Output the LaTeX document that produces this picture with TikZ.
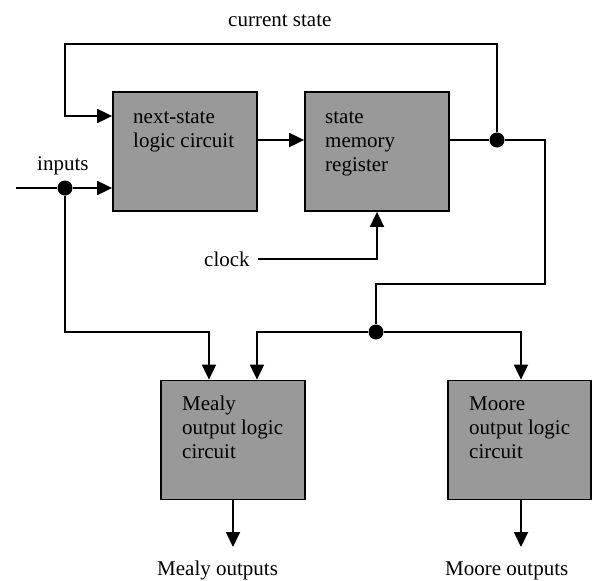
\documentclass[tikz,border=0pt]{standalone}
\usepackage{fontspec}
\setmainfont{Liberation Serif}
\usetikzlibrary{arrows.meta}
\definecolor{boxgray}{RGB}{153,153,153}
\begin{document}
\begin{tikzpicture}[x=1pt,y=-1pt,
  every node/.style={font=\fontsize{21}{24}\selectfont},
  blk/.style={draw=black,line width=1.8pt,fill=boxgray,minimum width=144pt,minimum height=119pt,inner sep=0pt},
  txt/.style={anchor=north west,align=left,inner sep=0pt},
  lbl/.style={anchor=base west,inner sep=0pt},
  wire/.style={line width=1.8pt},
  arr/.style={wire,-{Triangle[length=15pt,width=14pt]}},
  junc/.style={circle,fill=black,minimum size=15pt,inner sep=0pt}]
\useasboundingbox (0,0) rectangle (592,581);
% helper rows / columns
\coordinate (r1) at (0,116);
\coordinate (r2) at (0,140);
\coordinate (x257) at (257,0);
% blocks
\node[blk] (b1) at (185,151.5) {};
\node[blk] (b2) at (377,151.5) {};
\node[blk] (m) at (233,440) {};
\node[blk,minimum width=143pt] (mo) at (519.5,440) {};
\node[txt] (t1) at (133,106) {\strut next-state\\logic circuit};
\node[txt] (t2) at (325,106) {\strut state\\memory\\register};
\node[txt] (t3) at (182,393) {\strut Mealy\\output logic\\circuit};
\node[txt] (t4) at (469,393) {\strut Moore\\output logic\\circuit};
% labels
\node[lbl] (cs) at (228,26) {current state};
\node[lbl] (inp) at (37,170) {inputs};
\node[lbl] (clk) at (204,266) {clock};
\node[lbl] (mealyout) at (157,575) {Mealy outputs};
\node[lbl] (mooreout) at (445,575) {Moore outputs};
% junctions
\node[junc] (din) at (65,188) {};
\node[junc] (dst) at (497,140) {};
\node[junc] (dmo) at (376,332) {};
% free ends / corners
\coordinate (inL) at (16,188);
\coordinate (tl) at (65,44);
\coordinate (k1) at (545,284);
\coordinate (c1) at (209,332);
\coordinate (mout) at (233,547);
\coordinate (moout) at (521,547);
% connectors
\draw[wire] (inL) -- (din);
\draw[arr] (din) -- (b1.west |- din);
\draw[arr] (din) |- (c1) -- (m.north -| c1);
\draw[arr] (b1.east |- r2) -- (b2.west |- r2);
\draw[wire] (b2.east |- r2) -- (dst);
\draw[arr] (dst) |- (tl) |- (b1.west |- r1);
\draw[wire] (dst) -| (k1) -| (dmo);
\draw[arr] (dmo) -| (m.north -| x257);
\draw[arr] (dmo) -| (moout |- mo.north);
\draw[arr] ([xshift=8pt]clk.east) -| (b2.south);
\draw[arr] (m.south) -- (mout);
\draw[arr] (moout |- mo.south) -- (moout);
\end{tikzpicture}
\end{document}
